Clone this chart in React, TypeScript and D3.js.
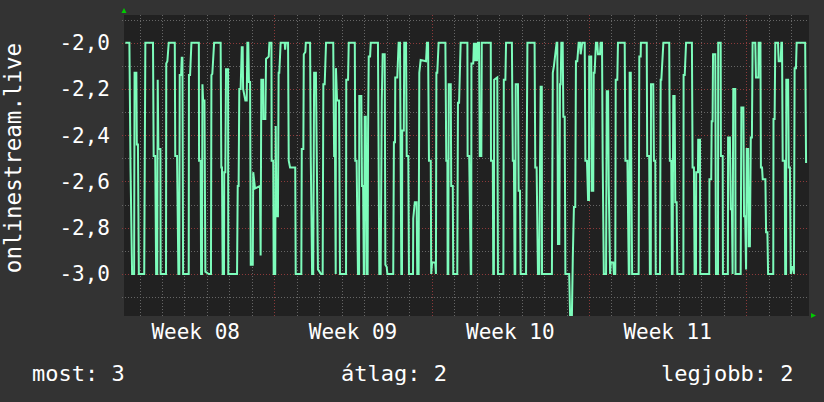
import React from "react";
import * as d3 from "d3";

const W = 824;
const H = 402;
const START = Date.UTC(2021, 1, 22); // Monday of ISO week 08
const DAY = 864e5;

const xDomainDays = [0.31, 30.79];
const yDomain = [-3.1816, -1.8802];
const yMajorTicks = [-3.0, -2.8, -2.6, -2.4, -2.2, -2.0];
const yMinorTicks = [-3.1, -2.9, -2.7, -2.5, -2.3, -2.1, -1.9];
const yAxisLabel = "onlinestream.live";
const weekPrefix = "Week ";
const legendItems = ["most: 3", "átlag: 2", "legjobb: 2"];

// [days since Monday of week 08, value]
const series: [number, number][] = [
  [0.37,-2.0],[0.55,-2.0],[0.60,-2.54],[0.67,-3.0],[0.76,-3.0],[0.78,-2.13],[0.86,-2.13],[0.88,-2.44],[0.93,-2.44],[0.97,-3.0],[1.21,-3.0],[1.26,-2.0],[1.60,-2.0],[1.63,-2.49],[1.70,-2.49],[1.74,-3.0],[1.79,-3.0],[1.81,-2.16],[1.84,-2.46],[1.93,-2.46],[1.94,-3.0],[2.18,-3.0],[2.19,-2.09],[2.24,-2.08],[2.30,-2.0],[2.57,-2.0],[2.59,-2.49],[2.67,-2.49],[2.73,-3.0],[2.77,-3.0],[2.79,-2.14],[2.85,-2.14],[2.88,-2.065],[2.91,-2.065],[2.94,-3.0],[3.19,-3.0],[3.20,-2.14],[3.25,-2.14],[3.31,-2.0],[3.64,-2.0],[3.65,-2.51],[3.72,-2.51],[3.74,-3.0],[3.78,-3.0],[3.80,-2.18],[3.83,-2.25],[3.89,-2.25],[3.93,-2.99],[4.08,-3.0],[4.18,-3.0],[4.20,-2.14],[4.24,-2.135],[4.32,-2.0],[4.61,-2.0],[4.64,-2.54],[4.67,-2.54],[4.70,-3.0],[4.76,-3.0],[4.77,-2.56],[4.82,-2.56],[4.85,-2.115],[4.94,-2.115],[4.95,-3.0],[5.34,-3.0],
  [5.37,-2.62],[5.41,-2.62],[5.44,-2.2],[5.50,-2.2],[5.55,-2.02],[5.59,-2.02],[5.61,-2.2],[5.71,-2.25],[5.77,-2.25],[5.80,-2.0],[5.84,-2.0],[5.87,-2.17],[5.92,-2.17],[5.95,-2.96],[6.04,-2.96],[6.06,-2.56],[6.14,-2.63],[6.36,-2.62],[6.39,-2.92],[6.42,-2.16],[6.50,-2.16],[6.51,-2.33],[6.60,-2.33],[6.63,-2.07],[6.75,-2.06],[6.78,-2.0],[6.87,-2.0],[6.88,-2.51],[6.95,-2.51],[6.97,-3.0],[7.04,-3.0],[7.06,-2.36],[7.09,-2.75],[7.16,-2.75],[7.19,-2.13],[7.22,-2.13],[7.28,-2.0],[7.46,-2.0],[7.48,-2.03],[7.51,-2.0],[7.61,-2.0],[7.64,-2.51],[7.70,-2.54],[7.93,-2.54],[7.95,-3.0],[8.20,-3.0],[8.22,-2.46],[8.29,-2.46],[8.31,-2.05],[8.38,-2.04],[8.40,-2.0],[8.59,-2.0],[8.62,-2.49],[8.68,-3.0],[8.73,-3.0],[8.77,-2.13],[8.85,-2.13],[8.89,-2.52],[8.94,-2.98],[9.08,-3.0],[9.15,-3.0],[9.18,-2.18],[9.24,-2.18],[9.30,-2.0],[9.62,-2.0],[9.66,-2.49],[9.70,-2.49],[9.73,-3.0],[9.74,-2.11],[9.79,-2.25],[9.88,-2.25],[9.92,-3.0],[10.19,-3.0],[10.20,-2.16],[10.28,-2.16],[10.31,-2.0],
  [10.58,-2.0],[10.60,-2.51],[10.66,-2.51],[10.72,-3.0],[10.77,-3.0],[10.78,-2.23],[10.87,-2.23],[10.90,-2.62],[10.95,-2.62],[10.98,-3.0],[11.00,-3.0],[11.02,-2.32],[11.07,-2.32],[11.11,-3.0],[11.15,-3.0],[11.17,-2.39],[11.20,-2.06],[11.26,-2.06],[11.29,-2.0],[11.61,-2.0],[11.67,-3.0],[11.73,-3.0],[11.78,-2.25],[11.82,-2.05],[11.91,-2.05],[11.94,-2.96],[12.00,-2.97],[12.03,-3.0],[12.29,-3.0],[12.32,-2.43],[12.37,-2.43],[12.38,-2.15],[12.47,-2.15],[12.53,-2.0],[12.59,-2.0],[12.65,-3.0],[12.68,-3.0],[12.69,-2.38],[12.76,-2.38],[12.78,-2.0],[12.86,-2.0],[12.89,-2.49],[12.96,-2.49],[12.99,-3.0],[13.17,-3.0],[13.18,-2.76],[13.25,-2.69],[13.33,-2.69],[13.36,-3.0],[13.42,-3.0],[13.45,-2.13],[13.51,-2.075],[13.75,-2.08],[13.79,-2.0],[13.84,-2.0],[13.88,-2.51],[13.96,-2.51],[13.98,-3.0],[14.02,-2.95],[14.16,-2.95],[14.19,-3.0],[14.21,-2.13],[14.25,-2.13],[14.31,-2.0],[14.61,-2.0],[14.65,-2.51],[14.70,-2.51],[14.71,-3.0],[14.74,-3.0],[14.76,-2.18],[14.85,-2.18],[14.87,-2.62],[14.94,-2.62],[14.96,-3.0],[15.14,-3.0],[15.17,-2.26],[15.22,-2.26],[15.29,-2.0],
  [15.59,-2.0],[15.60,-2.49],[15.67,-2.49],[15.74,-3.0],[15.76,-3.0],[15.77,-2.09],[15.85,-2.09],[15.88,-2.0],[15.93,-2.08],[15.97,-2.0],[16.02,-2.08],[16.06,-2.0],[16.11,-2.0],[16.14,-2.49],[16.21,-2.49],[16.23,-2.0],[16.63,-2.0],[16.64,-2.51],[16.72,-2.51],[16.74,-3.0],[16.77,-3.0],[16.78,-2.16],[16.92,-2.15],[16.95,-3.0],[17.19,-3.0],[17.21,-2.16],[17.28,-2.16],[17.31,-2.0],[17.57,-2.0],[17.61,-2.51],[17.66,-2.51],[17.69,-3.0],[17.72,-3.0],[17.74,-2.18],[17.84,-2.18],[17.87,-2.64],[17.93,-2.64],[17.96,-3.0],[18.20,-3.0],[18.26,-2.0],[18.58,-2.0],[18.61,-2.54],[18.67,-2.54],[18.73,-3.0],[18.79,-3.0],[18.82,-2.56],[18.85,-2.19],[18.90,-2.19],[18.91,-3.0],[19.35,-3.0],[19.39,-2.13],[19.44,-2.10],[19.56,-2.0],[19.59,-2.0],[19.62,-2.87],[19.68,-2.87],[19.71,-2.18],[19.74,-2.18],[19.77,-2.0],[19.83,-2.0],[19.86,-2.32],[19.92,-2.32],[19.95,-3.0],[20.12,-3.0],[20.16,-3.18],[20.24,-3.18],[20.28,-2.93],[20.33,-2.71],[20.39,-2.71],[20.42,-2.08],[20.48,-2.08],[20.54,-2.0],
  [20.60,-2.0],[20.63,-2.05],[20.70,-2.0],[20.81,-2.0],[20.84,-2.51],[20.91,-2.51],[20.96,-2.68],[21.00,-2.68],[21.01,-2.06],[21.10,-2.06],[21.12,-2.64],[21.19,-2.64],[21.21,-2.13],[21.25,-2.13],[21.31,-2.0],[21.37,-2.0],[21.40,-2.05],[21.49,-2.05],[21.52,-2.0],[21.58,-2.0],[21.61,-2.51],[21.66,-3.0],[21.76,-3.0],[21.79,-2.21],[21.85,-2.21],[21.88,-2.62],[21.94,-3.0],[21.97,-2.95],[22.08,-2.95],[22.11,-3.0],[22.17,-3.0],[22.19,-2.16],[22.26,-2.16],[22.29,-2.0],[22.59,-2.0],[22.62,-2.51],[22.71,-2.51],[22.77,-3.0],[22.80,-3.0],[22.81,-2.13],[22.86,-2.13],[22.88,-2.51],[22.92,-3.0],[23.21,-3.0],[23.24,-2.06],[23.30,-2.06],[23.31,-2.0],[23.57,-2.0],[23.59,-2.49],[23.68,-2.49],[23.71,-3.0],[23.75,-3.0],[23.76,-2.18],[23.86,-2.18],[23.89,-2.51],[23.95,-2.51],[23.97,-3.0],[24.16,-3.0],[24.19,-2.16],[24.22,-2.16],[24.31,-2.0],[24.57,-2.0],[24.60,-2.51],[24.66,-2.51],[24.69,-3.0],[24.72,-3.0],[24.75,-2.23],[24.81,-2.23],[24.84,-2.69],[24.90,-2.69],[24.93,-3.0],[25.20,-3.0],[25.21,-2.14],[25.26,-2.14],[25.32,-2.0],[25.58,-2.0],
  [25.61,-2.54],[25.67,-2.54],[25.70,-3.0],[25.76,-3.0],[25.77,-2.56],[25.85,-2.56],[25.86,-2.42],[25.94,-2.42],[25.95,-3.0],[26.35,-3.0],[26.36,-2.59],[26.44,-2.59],[26.46,-2.34],[26.50,-2.34],[26.52,-2.05],[26.62,-2.05],[26.65,-3.0],[26.74,-3.0],[26.75,-2.0],[26.86,-2.0],[26.87,-2.49],[26.95,-2.49],[26.96,-3.0],[27.18,-3.0],[27.19,-2.41],[27.27,-2.41],[27.31,-2.72],[27.36,-2.72],[27.39,-3.0],[27.42,-2.2],[27.51,-2.2],[27.52,-3.0],[27.75,-3.0],[27.78,-2.28],[27.87,-2.28],[27.90,-2.75],[27.95,-2.75],[27.99,-2.98],[28.02,-2.46],[28.08,-2.46],[28.11,-2.88],[28.16,-2.88],[28.20,-2.41],[28.25,-2.41],[28.28,-2.0],[28.40,-2.0],[28.43,-2.15],[28.54,-2.15],[28.55,-2.0],[28.63,-2.0],[28.65,-2.54],[28.70,-2.54],[28.73,-2.59],[28.85,-2.59],[28.88,-2.82],[28.94,-2.82],[28.97,-3.0],[29.20,-3.0],[29.21,-2.33],[29.26,-2.33],[29.29,-2.0],[29.41,-2.0],[29.44,-2.08],[29.53,-2.08],[29.56,-2.0],[29.59,-2.0],[29.62,-2.51],[29.71,-2.51],[29.73,-3.0],[29.77,-3.0],[29.78,-2.16],[29.86,-2.16],[29.89,-2.54],[29.94,-2.54],[29.98,-3.0],[30.03,-2.97],[30.09,-2.97],[30.12,-3.0],[30.15,-2.11],[30.21,-2.11],[30.24,-2.0],[30.62,-2.0],[30.66,-2.52],
];

const FONT = "'DejaVu Sans Mono', monospace";
const toDate = (d: number) => new Date(START + d * DAY);

export default function App() {
  const left = 124, right = 809, top = 15, bottom = 316;
  const x = d3.scaleUtc().domain([toDate(xDomainDays[0]), toDate(xDomainDays[1])]).range([left, right]);
  const y = d3.scaleLinear().domain(yDomain).range([bottom, top]);
  const [d0, d1] = x.domain();
  const days = d3.utcDay.range(d3.utcDay.ceil(d0), d1);
  const mondays = d3.utcMonday.range(d3.utcMonday.ceil(d0), d1);
  const weekStarts = d3.utcMonday.range(d3.utcMonday.floor(d0), d1);
  const weekFmt = d3.utcFormat("%V");
  const line = d3.line<[number, number]>()
    .x((p) => x(toDate(p[0])))
    .y((p) => y(p[1]));
  const isMonday = (d: Date) => d.getUTCDay() === 1;
  const px = (v: number) => Math.round(v) + 0.5;

  return (
    <svg width={W} height={H} style={{ position: "absolute", left: 0, top: 0 }} xmlns="http://www.w3.org/2000/svg">
      <rect x={0} y={0} width={W} height={H} fill="#333333" />
      <rect x={left} y={top} width={right - left} height={bottom - top} fill="#212121" />
      <defs>
        <clipPath id="canvas">
          <rect x={left} y={top} width={right - left} height={bottom - top} />
        </clipPath>
      </defs>
      <g shapeRendering="crispEdges">
        {days.filter((d) => !isMonday(d)).map((d, i) => (
          <line key={"vd" + i} x1={px(x(d))} x2={px(x(d))} y1={top} y2={bottom} stroke="#666666" strokeDasharray="1,2" />
        ))}
        {yMinorTicks.map((v, i) => (
          <line key={"hm" + i} x1={left - 2} x2={right} y1={px(y(v))} y2={px(y(v))} stroke="#666666" strokeDasharray="1,2" />
        ))}
        {yMajorTicks.map((v, i) => (
          <line key={"hM" + i} x1={left - 2} x2={right} y1={px(y(v))} y2={px(y(v))} stroke="#8c3a3a" strokeDasharray="1,2" />
        ))}
        {mondays.map((d, i) => (
          <line key={"vM" + i} x1={px(x(d))} x2={px(x(d))} y1={top} y2={bottom + 2} stroke="#8c3a3a" strokeDasharray="1,2" />
        ))}
      </g>
      <path d={line(series) || ""} fill="none" stroke="#7dfcbb" strokeWidth={2} strokeLinejoin="miter" clipPath="url(#canvas)" />
      <path d={`M${left - 2.5},${top - 2}L${left + 2.5},${top - 2}L${left},${top - 7}Z`} fill="#00cc00" />
      <path d={`M${right + 2},${bottom - 3}L${right + 2},${bottom + 2}L${right + 7},${bottom - 0.5}Z`} fill="#00cc00" />
      <g fill="#ffffff" fontFamily={FONT} fontSize={21}>
        {yMajorTicks.map((v, i) => (
          <text key={"yl" + i} x={110} y={y(v) + 7.5} textAnchor="end">
            {v.toFixed(1).replace(".", ",")}
          </text>
        ))}
        {weekStarts.map((d, i) => {
          const mid = d3.utcHour.offset(d, 84);
          if (mid < d0 || mid > d1) return null;
          return (
            <text key={"xl" + i} x={x(mid)} y={339} textAnchor="middle">
              {weekPrefix + weekFmt(d)}
            </text>
          );
        })}
        <text transform={`translate(21, 158) rotate(-90)`} textAnchor="middle" fontSize={22.5}>{yAxisLabel}</text>
        <text x={32} y={381} fontSize={22}>{legendItems[0]}</text>
        <text x={341} y={381} fontSize={22}>{legendItems[1]}</text>
        <text x={661} y={381} fontSize={22}>{legendItems[2]}</text>
      </g>
    </svg>
  );
}
